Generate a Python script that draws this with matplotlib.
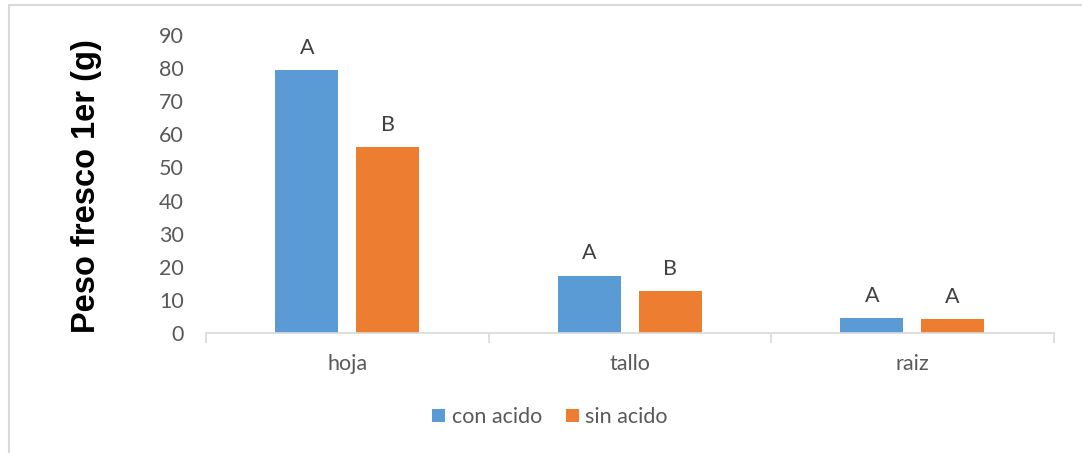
import matplotlib
matplotlib.use("Agg")
import matplotlib.pyplot as plt
import numpy as np
from matplotlib.patches import Rectangle

categories = ["hoja", "tallo", "raiz"]
series_names = ["con acido", "sin acido"]
con_acido = [79.3, 17.3, 4.4]
sin_acido = [56.1, 12.6, 4.1]
letters_con = ["A", "A", "A"]
letters_sin = ["B", "B", "A"]
yticks = [0, 10, 20, 30, 40, 50, 60, 70, 80, 90]

blue = "#5b9bd5"
orange = "#ed7d31"
txt = "#595959"
grid_c = "#d9d9d9"
font = ["Lato", "DejaVu Sans"]
fs = 15.5

fig = plt.figure(figsize=(10.82, 4.53), dpi=100)
fig.patches.append(Rectangle((9 / 1082, -0.1), 1.2, 1 - 5 / 453 + 0.1,
                             transform=fig.transFigure, fill=False,
                             edgecolor=grid_c, linewidth=1.5))
ax = fig.add_axes([206 / 1082, 1 - 333 / 453, (1053.5 - 206) / 1082, (333 - 35) / 453])

x = np.arange(len(categories))
off = 0.143
w = 0.224
b1 = ax.bar(x - off, con_acido, w, color=blue, label=series_names[0])
b2 = ax.bar(x + off, sin_acido, w, color=orange, label=series_names[1])

for bars, letters in ((b1, letters_con), (b2, letters_sin)):
    for rect, lab in zip(bars, letters):
        ax.annotate(lab, (rect.get_x() + rect.get_width() / 2, rect.get_height()),
                    xytext=(0, 9), textcoords="offset points", ha="center", va="bottom",
                    fontsize=fs, color="#404040", family=font)

ax.set_xlim(-0.5, len(categories) - 0.5)
ax.set_ylim(0, 90)
ax.set_yticks(yticks)
ax.set_yticklabels([str(t) for t in yticks], fontsize=fs, color=txt, family=font)
ax.set_xticks(x)
ax.set_xticklabels(categories, fontsize=fs, color=txt, family=font)
ax.tick_params(axis="y", length=0, pad=16)
ax.tick_params(axis="x", length=0, pad=15)
ax.set_xticks(np.arange(-0.5, len(categories)), minor=True)
ax.tick_params(axis="x", which="minor", length=7, color=grid_c, width=1.2)
for s in ("top", "right", "left"):
    ax.spines[s].set_visible(False)
ax.spines["bottom"].set_color(grid_c)
ax.spines["bottom"].set_linewidth(1.2)

fig.text(86 / 1082, 1 - 186 / 453, "Peso fresco 1er (g)", rotation=90, ha="center", va="center",
         fontsize=23.5, fontweight="bold", family=["Liberation Sans", "DejaVu Sans"], color="black")

leg = fig.legend(handles=[b1, b2], labels=series_names, loc="center",
                 bbox_to_anchor=(550 / 1082, 1 - 417 / 453), ncol=2, frameon=False,
                 prop={"family": font, "size": fs}, handlelength=0.6, handleheight=0.6,
                 handletextpad=0.3, columnspacing=1.1)
for t in leg.get_texts():
    t.set_color(txt)

fig.savefig("out.png", dpi=100)
